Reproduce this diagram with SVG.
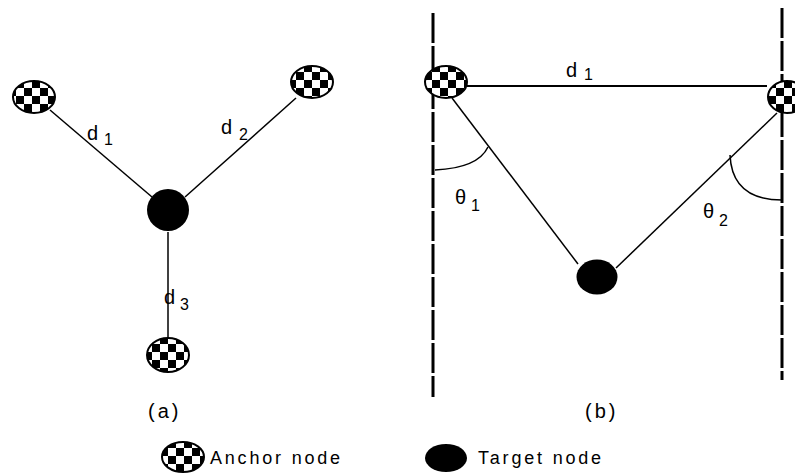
<svg xmlns="http://www.w3.org/2000/svg" width="795" height="474" viewBox="0 0 795 474">
<style>
.t{font-family:"Liberation Sans",Arial,sans-serif;fill:#000;}
.lbl{font-size:20px;}
.sub{font-size:16px;}
.cap{font-size:20px;letter-spacing:3px;}
.leg{font-size:18px;letter-spacing:2.8px;}
.ln{stroke:#000;stroke-width:1.5;fill:none;}
.dash{stroke:#000;stroke-width:3;fill:none;stroke-dasharray:30 3;}
.anc{fill:url(#chk);stroke:#000;stroke-width:2;}
.tgt{fill:#000;}
</style>
<defs>
<pattern id="chk" patternUnits="userSpaceOnUse" width="16" height="16">
<rect width="16" height="16" fill="#fff"/>
<rect width="8" height="8" fill="#000"/>
<rect x="8" y="8" width="8" height="8" fill="#000"/>
</pattern>
</defs>
<rect width="795" height="474" fill="#fff"/>
<g id="connectors">
<line class="ln" x1="50" y1="110" x2="152" y2="197"/>
<line class="ln" x1="296" y1="98" x2="185" y2="197"/>
<line class="ln" x1="168" y1="232" x2="168" y2="340"/>
<line class="dash" x1="433" y1="13" x2="433" y2="397"/>
<line class="dash" x1="782" y1="8" x2="782" y2="380"/>
<line class="ln" x1="467" y1="86" x2="767" y2="86" style="stroke-width:2"/>
<line class="ln" x1="452" y1="98" x2="578" y2="264"/>
<line class="ln" x1="777" y1="113" x2="616" y2="268"/>
<path class="ln" d="M435,170 Q478,168 488,147"/>
<path class="ln" d="M730,155 Q732,200 782,200"/>
</g>
<g id="anchor-a1"><ellipse class="anc" cx="34" cy="97" rx="21" ry="16"/></g>
<g id="anchor-a2"><ellipse class="anc" cx="312" cy="82" rx="21" ry="16"/></g>
<g id="anchor-a3"><ellipse class="anc" cx="168" cy="355" rx="21" ry="17"/></g>
<g id="target-a"><ellipse class="tgt" cx="168" cy="210" rx="21" ry="21"/></g>
<g id="anchor-b1"><ellipse class="anc" cx="446" cy="82" rx="21" ry="16"/></g>
<g id="anchor-b2"><ellipse class="anc" cx="787" cy="97" rx="19" ry="16"/></g>
<g id="target-b"><ellipse class="tgt" cx="597" cy="277" rx="20.5" ry="17.5"/></g>
<g id="labels">
<text class="t lbl" x="87" y="140">d</text><text class="t sub" x="104" y="145">1</text>
<text class="t lbl" x="221" y="134">d</text><text class="t sub" x="239" y="140">2</text>
<text class="t lbl" x="164" y="304">d</text><text class="t sub" x="180" y="310">3</text>
<text class="t lbl" x="566" y="77">d</text><text class="t sub" x="584" y="80">1</text>
<text class="t lbl" x="455" y="204">θ</text><text class="t sub" x="471" y="211">1</text>
<text class="t lbl" x="703" y="218">θ</text><text class="t sub" x="719" y="226">2</text>
<text class="t cap" x="148" y="418">(a)</text>
<text class="t cap" x="585" y="418">(b)</text>
</g>
<g id="legend">
<ellipse class="anc" cx="183" cy="457" rx="21" ry="15"/>
<text class="t leg" x="210" y="464">Anchor node</text>
<ellipse class="tgt" cx="446" cy="458" rx="21" ry="14"/>
<text class="t leg" x="478" y="464">Target node</text>
</g>
</svg>
